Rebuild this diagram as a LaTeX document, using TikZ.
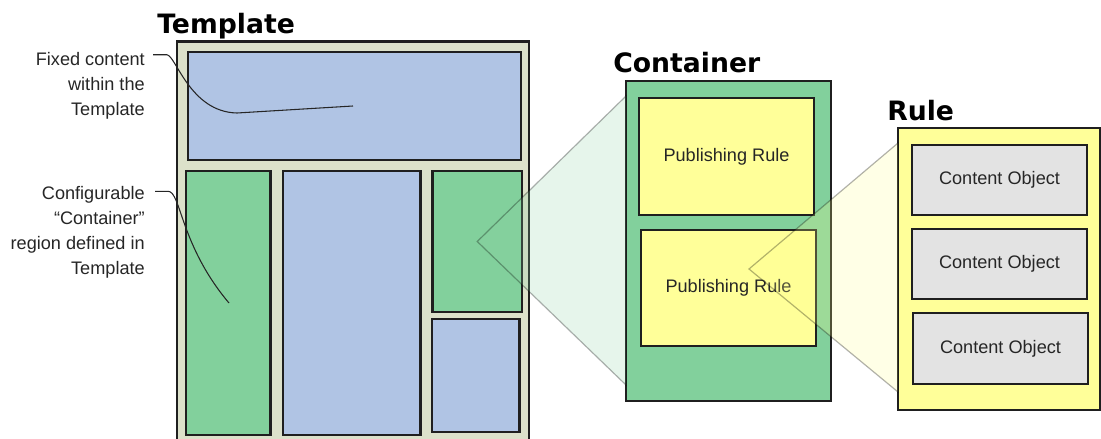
\documentclass[tikz,border=0pt]{standalone}
\usepackage{fontspec}
\setmainfont{Liberation Sans}
\newfontfamily\headfont{DejaVu Sans}
\usetikzlibrary{positioning}
\usetikzlibrary{fit}

\definecolor{tplgrey}{RGB}{220,225,202}
\definecolor{slotblue}{RGB}{176,196,228}
\definecolor{slotgreen}{RGB}{130,208,156}
\definecolor{ruleyellow}{RGB}{255,255,153}
\definecolor{objgrey}{RGB}{227,227,227}
\definecolor{zoomgreen}{RGB}{140,210,165}
\definecolor{zoomyellow}{RGB}{255,255,140}

\tikzset{
  box/.style={draw=black!88, line width=1.7pt, rectangle, inner sep=0pt, outer sep=0pt},
  boxsize/.style 2 args={minimum width=#1*0.75pt, minimum height=#2*0.75pt},
  head/.style={font=\headfont\bfseries\fontsize{20}{24}\selectfont, anchor=base west, inner sep=0pt},
  txt/.style={font=\fontsize{13.6}{18.75}\selectfont, text=black!85},
  lead/.style={draw=black!85, line width=0.8pt},
  zoomwedge/.style={draw=black, draw opacity=0.3, line width=0.9pt, fill opacity=0.22},
}

\begin{document}
\begin{tikzpicture}[x=0.75pt, y=-0.75pt]
\useasboundingbox (0,0) rectangle (1101,439);

\node[head] (TplHead) at (157,33) {Template};
\node[box, fill=tplgrey, fit={(177,41.5) (529,445)}] (Tpl) {};
\node[box, fill=slotblue, fit={(188,52) (521,160)}] (Fixed) {};
\node[box, fill=slotgreen, fit={(186,171) (270.5,435)}] (Slot1) {};
\node[box, fill=slotblue, fit={(283,171) (420.5,435)}] (Body) {};
\node[box, fill=slotgreen, fit={(432.5,171) (522,312)}] (Slot2) {};
\node[box, fill=slotblue, fit={(432,319) (519.5,432)}] (Side) {};

\node[head] (ContHead) at (613,72) {Container};
\node[box, fill=slotgreen, fit={(626,81) (831,401)}] (Cont) {};
\node[box, fill=ruleyellow, txt, boxsize={175}{117}] (PR1) at (726.5,156.5) {Publishing Rule};
\node[box, fill=ruleyellow, txt, boxsize={175}{116}] (PR2) at (728.5,288) {Publishing Rule};

\node[head] (RuleHead) at (887,120) {Rule};
\node[box, fill=ruleyellow, fit={(898,128) (1100,410)}] (Rule) {};
\node[box, fill=objgrey, txt, boxsize={175}{70}] (CO1) at (999.5,180) {Content Object};
\node[box, fill=objgrey, txt, boxsize={175}{70}] (CO2) at (999.5,264) {Content Object};
\node[box, fill=objgrey, txt, boxsize={175}{71}] (CO3) at (1000.5,348.5) {Content Object};

\draw[zoomwedge, fill=zoomgreen] (Slot2.center) -- ([shift={(0,15)}]Cont.north west) -- ([shift={(0,-16)}]Cont.south west) -- cycle;
\coordinate (RuleApex) at (749,269);
\draw[zoomwedge, fill=zoomyellow] (RuleApex) -- ([shift={(0,15)}]Rule.north west) -- ([shift={(0,-18)}]Rule.south west) -- cycle;

\node[txt, align=right, anchor=east, inner sep=0pt] (FixLbl) at (145,85.5) {Fixed content\\within the\\Template};
\node[txt, align=right, anchor=east, inner sep=0pt] (CfgLbl) at (145,232.5) {Configurable\\“Container”\\region defined in\\Template};

\coordinate (FixBend) at (237,113);
\coordinate (FixTip) at (353,106);
\coordinate (CfgTip) at (229,303);
\draw[lead] ([shift={(8,3)}]FixLbl.north east) -- ++(14,0) .. controls +(9,1) and +(-47,-1) .. (FixBend) -- (FixTip);
\draw[lead] ([shift={(10,5)}]CfgLbl.north east) -- ++(13,0) .. controls +(13,0) and (180,245) .. (CfgTip);
\end{tikzpicture}
\end{document}
